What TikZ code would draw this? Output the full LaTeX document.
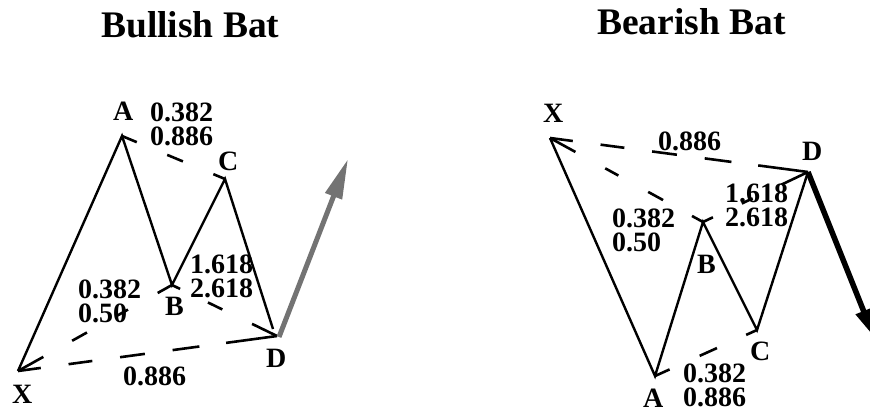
\documentclass[tikz,border=0pt]{standalone}
\usepackage{fontspec}
\setmainfont{Liberation Serif}
\usetikzlibrary{arrows.meta}
\begin{document}
\begin{tikzpicture}[x=1pt,y=-1pt,
  leg/.style={line width=2.4pt, line join=miter},
  ratio/.style={line width=2.6pt},
  longratio/.style={line width=2.6pt, dash pattern=on 23pt off 28pt on 24pt off 28pt on 25pt off 28pt on 27pt off 27pt on 60pt},
  lbl/.style={font=\fontsize{28}{28}\selectfont\bfseries, inner sep=0pt, anchor=base west},
  ttl/.style={font=\fontsize{37.5}{37.5}\selectfont\bfseries, inner sep=0pt, anchor=base west}]
\useasboundingbox (0,0) rectangle (870,412);
\clip (0,0) rectangle (870,412);
% titles
\node[ttl] (t1) at (101,38) {Bullish Bat};
\node[ttl] (t2) at (597,35) {Bearish Bat};
% ---------- Bullish ----------
\coordinate (X1) at (18,371);
\coordinate (A1) at (122,136);
\coordinate (B1) at (172,285);
\coordinate (C1) at (225,179);
\coordinate (D1) at (277,336);
\coordinate (E1) at (273,329);
\coordinate (G1) at (348,159);
\draw[leg] (X1) -- (A1) -- (B1) -- (C1) -- (E1);
\draw[longratio] (X1) -- (D1);
\draw[ratio, dash pattern=on 29pt off 33pt on 17pt off 35pt on 12pt off 34pt on 20pt] (X1) -- (B1);
\draw[ratio, dash pattern=on 16pt off 33pt on 17pt off 33pt on 20pt] (A1) -- (C1);
\draw[ratio, dash pattern=on 9pt off 31pt on 16pt off 33pt on 40pt] (B1) -- (D1);
\draw[line width=5pt, draw=gray!90!black, -{Triangle[length=40pt,width=17pt]}] ([xshift=2pt,yshift=-1pt]D1) -- (G1);
\node[lbl] (la1) at (113,120) {A};
\node[lbl] (r11) at (150,121) {0.382};
\node[lbl] (r12) at (150,145) {0.886};
\node[lbl] (lc1) at (218,170) {C};
\node[lbl] (r13) at (190,273) {1.618};
\node[lbl] (r14) at (190,297) {2.618};
\node[lbl] (r15) at (78,298) {0.382};
\node[lbl] (r16) at (78,322) {0.50};
\node[lbl] (lb1) at (165,315) {B};
\node[lbl] (ld1) at (266,367) {D};
\node[lbl] (lx1) at (12,403) {X};
\node[lbl] (r17) at (123,385) {0.886};
% ---------- Bearish ----------
\coordinate (X2) at (550,138);
\coordinate (A2) at (655,376);
\coordinate (B2) at (703,222);
\coordinate (C2) at (757,330);
\coordinate (D2) at (808,172);
\coordinate (G2) at (874,337);
\draw[leg] (X2) -- (A2) -- (B2) -- (C2) -- (D2);
\draw[longratio] (X2) -- (D2);
\draw[ratio, dash pattern=on 29pt off 34pt on 15pt off 34pt on 17pt off 33pt on 20pt] (X2) -- (B2);
\draw[ratio, dash pattern=on 16pt off 33pt on 19pt off 32pt on 20pt] (A2) -- (C2);
\draw[ratio, dash pattern=on 11pt off 32pt on 12pt off 32pt on 40pt] (B2) -- (D2);
\draw[line width=5.5pt, -{Triangle[length=28pt,width=16pt]}] (D2) -- (G2);
\node[lbl] (lx2) at (543,122) {X};
\node[lbl] (r21) at (658,150) {0.886};
\node[lbl] (ld2) at (802,160) {D};
\node[lbl] (r22) at (725,202) {1.618};
\node[lbl] (r23) at (725,226) {2.618};
\node[lbl] (r24) at (612,227) {0.382};
\node[lbl] (r25) at (612,251) {0.50};
\node[lbl] (lb2) at (697,273) {B};
\node[lbl] (lc2) at (750,360) {C};
\node[lbl] (la2) at (643,407) {A};
\node[lbl] (r26) at (683,382) {0.382};
\node[lbl] (r27) at (683,406) {0.886};
\end{tikzpicture}
\end{document}
